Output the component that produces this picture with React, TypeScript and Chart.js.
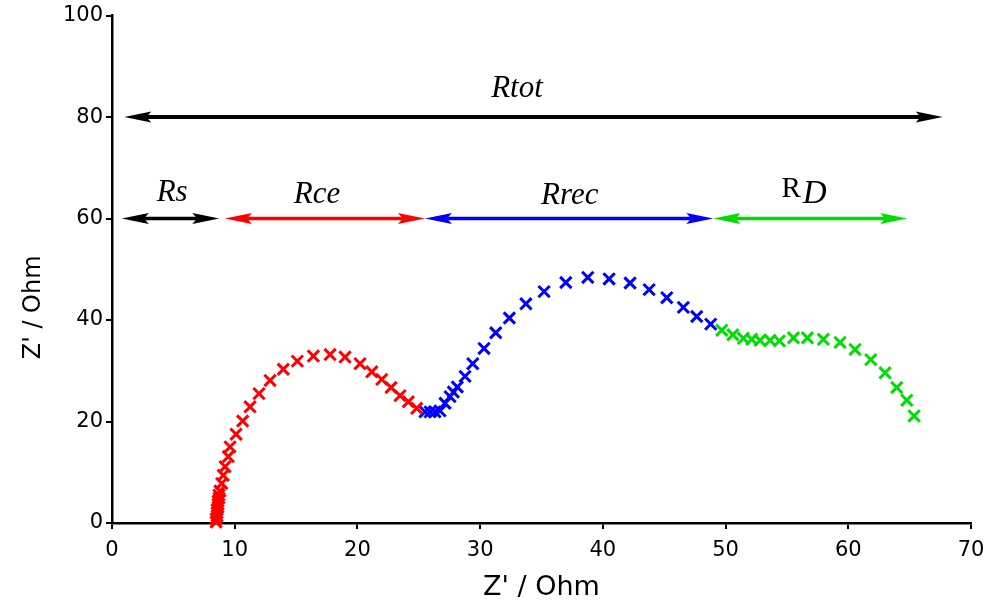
import React, { useEffect, useRef } from "react";
import { Chart, registerables } from "chart.js";

Chart.register(...registerables);

// Axis ranges / ticks
const xMin = 0;
const xMax = 70;
const xStep = 10;
const yMin = 0;
const yMax = 100;
const yStep = 20;

const redX = [8.48, 8.48, 8.56, 8.56, 8.56, 8.64, 8.64, 8.64, 8.72, 8.72, 8.8, 8.94, 9.07, 9.21, 9.48, 9.62, 10.11, 10.65, 11.25, 11.98, 12.88, 13.96, 15.1, 16.41, 17.77, 18.99, 20.21, 21.17, 21.98, 22.74, 23.47, 24.15, 24.83];
const redY = [0.2, 0.8, 1.4, 2.0, 2.6, 3.1, 3.7, 4.3, 4.9, 5.5, 6.3, 7.8, 9.4, 11.1, 13.1, 15.0, 17.5, 20.1, 22.9, 25.5, 28.1, 30.3, 31.9, 32.9, 33.2, 32.7, 31.4, 29.8, 28.3, 26.7, 25.1, 23.9, 22.6];

const blueX = [25.51, 25.92, 26.32, 26.73, 27.14, 27.55, 27.82, 28.14, 28.77, 29.4, 30.32, 31.27, 32.38, 33.73, 35.21, 36.98, 38.77, 40.51, 42.22, 43.77, 45.21, 46.56, 47.65, 48.79];
const blueY = [21.9, 21.9, 21.9, 22.1, 23.6, 24.9, 25.8, 26.8, 28.9, 31.4, 34.4, 37.5, 40.4, 43.2, 45.6, 47.4, 48.4, 48.1, 47.3, 46.0, 44.4, 42.5, 40.7, 39.2];

const greenX = [49.69, 50.59, 51.45, 52.13, 52.81, 53.63, 54.38, 55.53, 56.67, 57.97, 59.33, 60.55, 61.83, 63.0, 63.95, 64.77, 65.36];
const greenY = [38.0, 37.1, 36.4, 36.2, 36.0, 36.0, 35.9, 36.5, 36.5, 36.2, 35.6, 34.2, 32.2, 29.6, 26.7, 24.2, 21.1];

// Resistance annotation arrows
const arrowFrom = [1.0, 0.8, 9.2, 25.5, 49.0];
const arrowTo = [67.7, 8.74, 25.5, 49.0, 64.8];
const arrowLevel = [80, 60, 60, 60, 60];
const arrowColors = ["#000000", "#000000", "#ff0000", "#0000ff", "#00dd00"];
const arrowWidths = [4, 3.5, 3.5, 3.5, 3.5];

const labelMain = ["Rtot", "Rs", "Rce", "Rrec", "R"];
const labelSub = ["", "", "", "", "D"];
const labelX = [33.0, 4.9, 16.7, 37.3, 56.4];
const labelY = [85.6, 65.0, 64.6, 64.4, 65.6];

const xTitle = "Z' / Ohm";
const yTitle = "Z' / Ohm";

const toPoints = (xs: number[], ys: number[]) => xs.map((v, i) => ({ x: v, y: ys[i] }));

const annotationPlugin = {
  id: "nyquistAnnotations",
  afterDatasetsDraw(chart: any) {
    const { ctx, scales } = chart;
    const xs = scales.x;
    const ys = scales.y;
    ctx.save();
    const head = 27;
    const hw = 5.5;
    for (let i = 0; i < arrowFrom.length; i++) {
      const x1 = xs.getPixelForValue(arrowFrom[i]);
      const x2 = xs.getPixelForValue(arrowTo[i]);
      const py = ys.getPixelForValue(arrowLevel[i]);
      ctx.strokeStyle = arrowColors[i];
      ctx.fillStyle = arrowColors[i];
      ctx.lineWidth = arrowWidths[i];
      ctx.lineCap = "butt";
      ctx.beginPath();
      ctx.moveTo(x1 + head * 0.7, py);
      ctx.lineTo(x2 - head * 0.7, py);
      ctx.stroke();
      // left head
      ctx.beginPath();
      ctx.moveTo(x1, py);
      ctx.lineTo(x1 + head, py - hw);
      ctx.lineTo(x1 + head * 0.82, py);
      ctx.lineTo(x1 + head, py + hw);
      ctx.closePath();
      ctx.fill();
      // right head
      ctx.beginPath();
      ctx.moveTo(x2, py);
      ctx.lineTo(x2 - head, py - hw);
      ctx.lineTo(x2 - head * 0.82, py);
      ctx.lineTo(x2 - head, py + hw);
      ctx.closePath();
      ctx.fill();
    }
    // labels
    ctx.fillStyle = "#000";
    ctx.textBaseline = "middle";
    for (let i = 0; i < labelMain.length; i++) {
      const px = xs.getPixelForValue(labelX[i]);
      const py = ys.getPixelForValue(labelY[i]);
      if (labelSub[i]) {
        const mainFont = '29px "Liberation Serif"';
        const subFont = 'italic 33px "Liberation Serif"';
        ctx.font = mainFont;
        const w1 = ctx.measureText(labelMain[i]).width;
        ctx.font = subFont;
        const w2 = ctx.measureText(labelSub[i]).width;
        const start = px - (w1 + w2 + 2) / 2;
        ctx.textAlign = "left";
        ctx.font = mainFont;
        ctx.fillText(labelMain[i], start, py - 1);
        ctx.font = subFont;
        ctx.fillText(labelSub[i], start + w1 + 2, py + 4);
      } else {
        ctx.font = 'italic 31px "Liberation Serif"';
        ctx.textAlign = "center";
        ctx.fillText(labelMain[i], px, py);
      }
    }
    // y axis title (drawn off-centre like the reference)
    ctx.font = '24px "DejaVu Sans"';
    ctx.textAlign = "center";
    ctx.textBaseline = "middle";
    ctx.translate(34, ys.getPixelForValue(42.5));
    ctx.rotate(-Math.PI / 2);
    ctx.fillText(yTitle, 0, 0);
    ctx.restore();
  },
};

export default function App() {
  const canvasRef = useRef<HTMLCanvasElement | null>(null);

  useEffect(() => {
    document.body.style.margin = "0";
    const canvas = canvasRef.current;
    if (!canvas) return;
    const tickFont = { family: "DejaVu Sans", size: 21 };
    const chart = new Chart(canvas, {
      type: "scatter",
      data: {
        datasets: [
          {
            label: "Rce",
            data: toPoints(redX, redY),
            borderColor: "#ff0000",
            backgroundColor: "#ff0000",
          },
          {
            label: "Rrec",
            data: toPoints(blueX, blueY),
            borderColor: "#0000ff",
            backgroundColor: "#0000ff",
          },
          {
            label: "RD",
            data: toPoints(greenX, greenY),
            borderColor: "#00dd00",
            backgroundColor: "#00dd00",
          },
        ].map((d) => ({
          ...d,
          pointStyle: "crossRot",
          pointRadius: 8,
          pointBorderWidth: 3,
          showLine: false,
          clip: false as any,
        })),
      },
      options: {
        responsive: false,
        animation: false,
        devicePixelRatio: 1,
        layout: { padding: { top: 15, right: 26, left: 0, bottom: 0 } },
        plugins: {
          legend: { display: false },
          tooltip: { enabled: false },
        },
        scales: {
          x: {
            type: "linear",
            min: xMin,
            max: xMax,
            afterFit: (scale: any) => {
              scale.height = 85;
            },
            ticks: { stepSize: xStep, font: tickFont, color: "#000", padding: 9, maxRotation: 0 },
            grid: {
              drawOnChartArea: false,
              drawTicks: true,
              tickLength: 6,
              color: "#000",
              lineWidth: 2,
            },
            border: { display: true, color: "#000", width: 2.5 },
            title: {
              display: true,
              text: xTitle,
              font: { family: "DejaVu Sans", size: 27 },
              color: "#000",
              padding: { top: 0, bottom: 4 },
            },
          },
          y: {
            type: "linear",
            min: yMin,
            max: yMax,
            afterFit: (scale: any) => {
              scale.width = 112;
            },
            ticks: { stepSize: yStep, font: tickFont, color: "#000", padding: 3 },
            grid: {
              drawOnChartArea: false,
              drawTicks: true,
              tickLength: 6,
              color: "#000",
              lineWidth: 2,
            },
            border: { display: true, color: "#000", width: 2.5 },
          },
        },
      },
      plugins: [annotationPlugin],
    } as any);
    return () => {
      chart.destroy();
    };
  }, []);

  return (
    <div style={{ width: 997, height: 608, background: "#fff" }}>
      <canvas ref={canvasRef} width={997} height={608} style={{ display: "block", width: 997, height: 608 }} />
    </div>
  );
}
